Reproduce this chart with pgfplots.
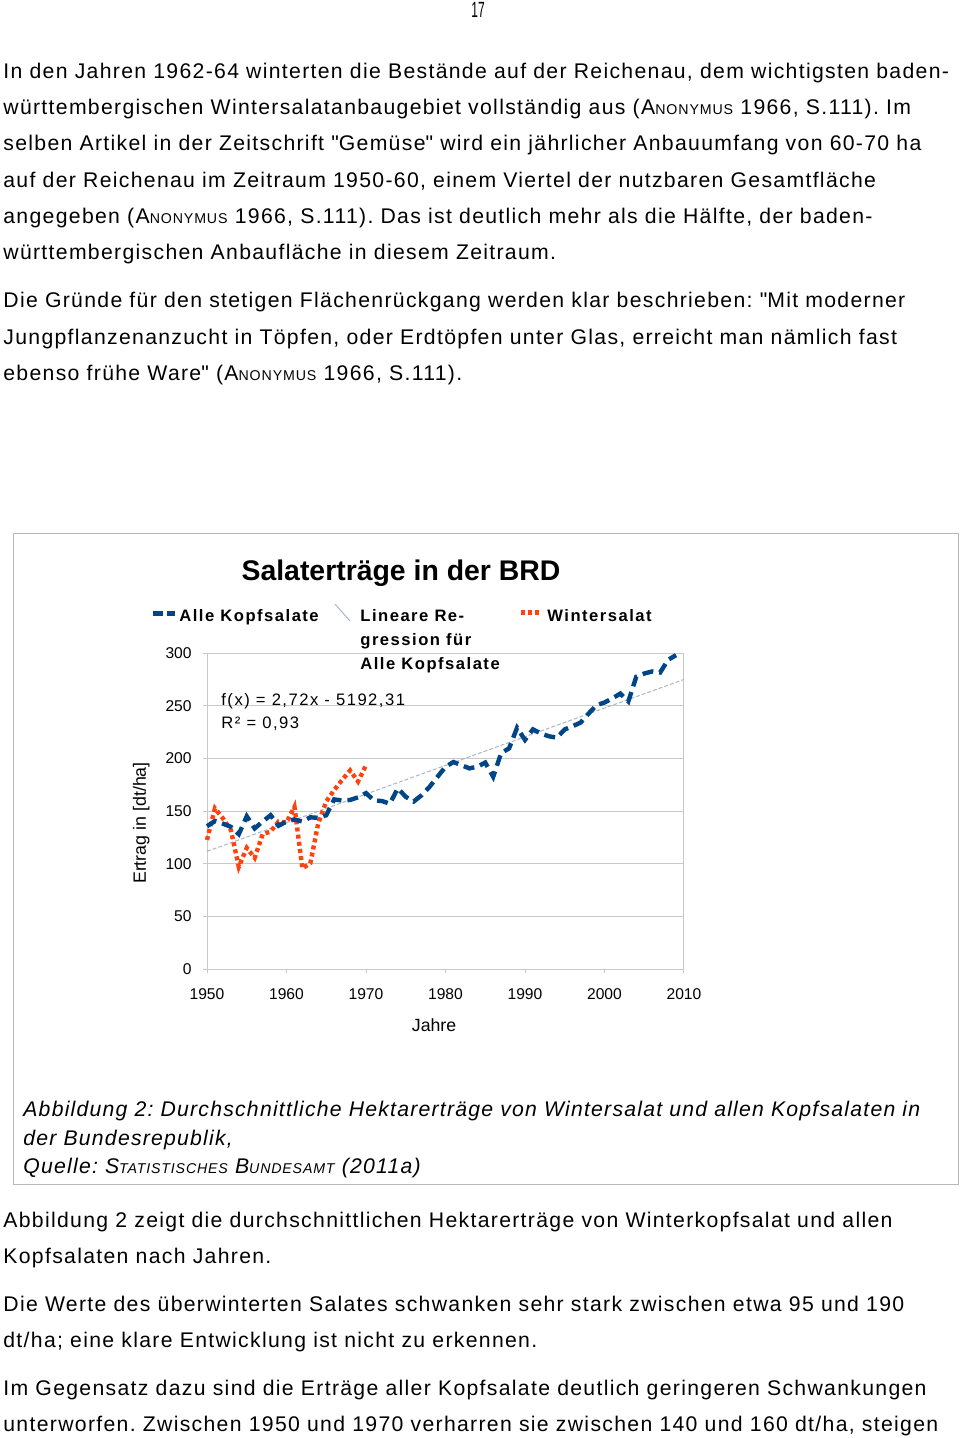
\documentclass[border=0pt]{standalone}
\usepackage{fontspec}
\setmainfont{Liberation Sans}
\newfontfamily\chartls[LetterSpace=9]{Liberation Sans}
\newfontfamily\bodyls[LetterSpace=6.2]{Liberation Sans}
\newfontfamily\capls[LetterSpace=5.8]{Liberation Sans}
\usepackage{pgfplots}
\pgfplotsset{compat=1.18}
\definecolor{lblue}{HTML}{004586}
\definecolor{lorange}{HTML}{FF420E}
\definecolor{lgrid}{HTML}{C8C8C8}
\definecolor{lframe}{HTML}{B8B8B8}
\definecolor{lreg}{HTML}{A8B8C8}
\newcommand\fsc[1]{{\fontsize{7.1}{8}\selectfont #1}}
\newcommand\body{\bodyls\frenchspacing\fontsize{10.6}{12}\selectfont}
\newcommand\capt{\capls\itshape\frenchspacing\fontsize{10.6}{12}\selectfont}
\newcommand\leg{\chartls\bfseries\fontsize{8.3}{9}\selectfont}
\newcommand\q{\textquotedbl}
\begin{document}
\begin{tikzpicture}[x=0.5pt,y=-0.5pt]
\useasboundingbox (0,0) rectangle (960,1438);
\fill[white] (0,0) rectangle (960,1438);
\node[anchor=base, inner sep=0] at (478,18) {\fontsize{10}{12}\selectfont\scalebox{0.6}[1.1]{17}};
\begin{scope}[every node/.style={anchor=base west, inner sep=0, font=\body}]
\node at (3,78.5) {In den Jahren 1962-64 winterten die Bestände auf der Reichenau, dem wichtigsten baden-};
\node at (3,114.7) {württembergischen Wintersalatanbaugebiet vollständig aus (A\fsc{NONYMUS} 1966, S.111). Im};
\node at (3,150.9) {selben Artikel in der Zeitschrift \q Gemüse\q{} wird ein jährlicher Anbauumfang von 60-70 ha};
\node at (3,187.1) {auf der Reichenau im Zeitraum 1950-60, einem Viertel der nutzbaren Gesamtfläche};
\node at (3,223.3) {angegeben (A\fsc{NONYMUS} 1966, S.111). Das ist deutlich mehr als die Hälfte, der baden-};
\node at (3,259.5) {württembergischen Anbaufläche in diesem Zeitraum.};
\node at (3,308) {Die Gründe für den stetigen Flächenrückgang werden klar beschrieben: \q Mit moderner};
\node at (3,344.2) {Jungpflanzenanzucht in Töpfen, oder Erdtöpfen unter Glas, erreicht man nämlich fast};
\node at (3,380.4) {ebenso frühe Ware\q{} (A\fsc{NONYMUS} 1966, S.111).};
\node at (3,1227.7) {Abbildung 2 zeigt die durchschnittlichen Hektarerträge von Winterkopfsalat und allen};
\node at (3,1263.5) {Kopfsalaten nach Jahren.};
\node at (3,1311.7) {Die Werte des überwinterten Salates schwanken sehr stark zwischen etwa 95 und 190};
\node at (3,1347.7) {dt/ha; eine klare Entwicklung ist nicht zu erkennen.};
\node at (3,1395) {Im Gegensatz dazu sind die Erträge aller Kopfsalate deutlich geringeren Schwankungen};
\node at (3,1431) {unterworfen. Zwischen 1950 und 1970 verharren sie zwischen 140 und 160 dt/ha, steigen};
\end{scope}
\begin{scope}[every node/.style={anchor=base west, inner sep=0, font=\capt}]
\node at (23,1116.7) {Abbildung 2: Durchschnittliche Hektarerträge von Wintersalat und allen Kopfsalaten in};
\node at (23,1145) {der Bundesrepublik,};
\node at (23,1173.3) {Quelle: S\fsc{TATISTISCHES} B\fsc{UNDESAMT} (2011a)};
\end{scope}
\draw[lframe, line width=0.6pt] (13.5,533.5) rectangle (958.5,1184.5);
\node[anchor=base, inner sep=0] at (401,580) {\bfseries\fontsize{14.2}{16}\selectfont Salaterträge in der BRD};
\begin{axis}[
  at={(103.5pt,-484.5pt)}, anchor=south west,
  scale only axis, width=238.5pt, height=158pt,
  xmin=1950, xmax=2010, ymin=0, ymax=300,
  xtick={1950,1960,...,2010}, ytick={0,50,...,300},
  ymajorgrids, major grid style={lgrid, line width=0.5pt},
  axis line style={lgrid, line width=0.5pt},
  tick style={lgrid, line width=0.5pt}, tick align=outside, major tick length=2pt,
  xtick pos=lower, ytick pos=left,
  ticklabel style={font=\fontsize{7.8}{9}\selectfont, inner sep=0pt},
  xticklabel style={anchor=base, yshift=-13.3pt},
  yticklabel style={anchor=east, xshift=-5.5pt},
  /pgf/number format/assume math mode=true, /pgf/number format/1000 sep={},
  xlabel={Jahre}, ylabel={Ertrag in [dt/ha]},
  xlabel style={at={(axis description cs:0.476,-0.199)}, anchor=base, inner sep=0pt, font=\fontsize{8.85}{10}\selectfont},
  ylabel style={at={(axis description cs:-0.138,0.462)}, anchor=center, inner sep=0pt, font=\fontsize{8.9}{10}\selectfont},
  clip=false,
]
\addplot[lreg, line width=0.5pt, dash pattern=on 2pt off 1pt] coordinates {(1950,111.69) (2010,274.89)};
\addplot[lorange, line width=2.2pt, dash pattern=on 2pt off 1.6pt] coordinates {
(1950,122.5) (1951,152.5) (1952,143) (1953,132) (1954,97) (1955,115) (1956,105.5)
(1957,128) (1958,130.5) (1959,140) (1960,139) (1961,154) (1962,95.5) (1963,100.5)
(1964,138.5) (1965,159) (1966,170) (1967,179.5) (1968,188.5) (1969,178) (1970,193.5)};
\addplot[lblue, line width=2.2pt, dash pattern=on 5.5pt off 3pt] coordinates {
(1950,135.5) (1951,140.5) (1952,138) (1953,135) (1954,128) (1955,145) (1956,133.5)
(1957,140) (1958,146) (1959,136) (1960,140) (1961,142) (1962,140) (1963,144)
(1964,143.5) (1965,146) (1966,161) (1967,160) (1968,160.5) (1969,163) (1970,167)
(1971,160) (1972,159.5) (1973,157) (1974,171.5) (1975,163.5) (1976,159) (1977,165)
(1978,173) (1979,182.5) (1980,192) (1981,196.5) (1982,193.5) (1983,190.5) (1984,192)
(1985,196) (1986,182.5) (1987,205) (1988,209.5) (1989,229) (1990,217.5) (1991,227.5)
(1992,223.5) (1993,221) (1994,219.5) (1995,227.5) (1996,230.5) (1997,234) (1998,242.5)
(1999,250.5) (2000,253) (2001,257) (2002,261.5) (2003,254) (2004,277.5) (2005,280.5)
(2006,282.5) (2007,281.5) (2008,293.5) (2009,298)};
\end{axis}
% legend
\draw[lblue, line width=2.2pt, dash pattern=on 5pt off 2pt] (153,613.5) -- (175,613.5);
\draw[lreg, line width=0.5pt] (335,604) -- (350,621);
\draw[lorange, line width=2.2pt, dash pattern=on 2pt off 1.4pt] (521,612.5) -- (541,612.5);
\begin{scope}[every node/.style={anchor=base west, inner sep=0}]
\node at (179,621.7) {\leg Alle Kopfsalate};
\node at (360,621.7) {\leg Lineare Re-};
\node at (360,645.5) {\leg gression für};
\node at (360,669.3) {\leg Alle Kopfsalate};
\node at (547,621.7) {\leg Wintersalat};
\node at (221,705) {\chartls\fontsize{8.3}{9}\selectfont f(x) = 2,72x - 5192,31};
\node at (221,728.5) {\chartls\fontsize{8.3}{9}\selectfont R² = 0,93};
\end{scope}
\end{tikzpicture}
\end{document}
